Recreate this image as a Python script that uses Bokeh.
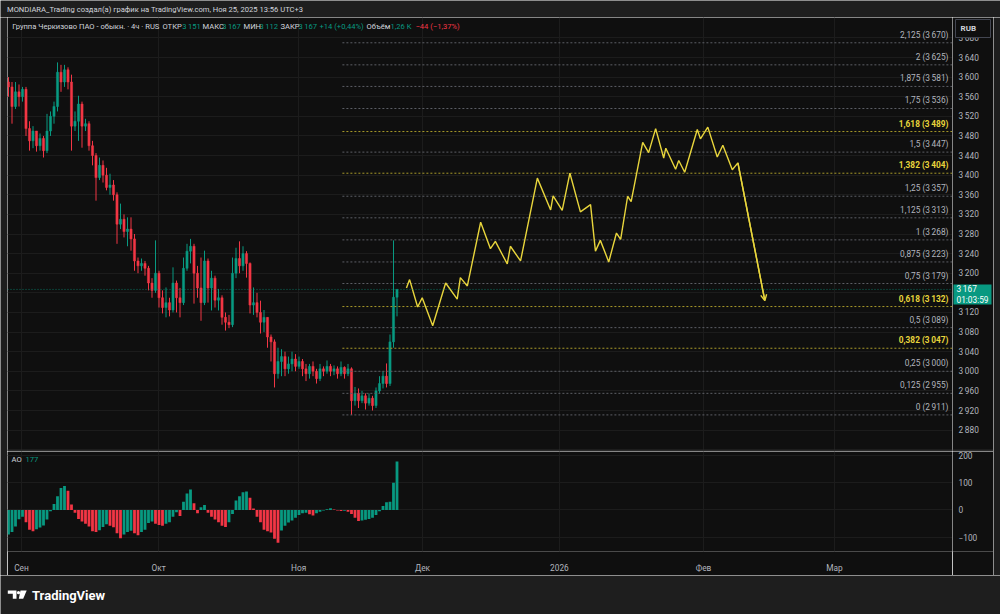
from bokeh.plotting import figure
from bokeh.layouts import column, row
from bokeh.models import (Range1d, FixedTicker, Arrow, OpenHead,
                          ColumnDataSource, Span, CustomJSTickFormatter)
from bokeh.core.properties import value
from bokeh.embed import file_html
from bokeh.resources import INLINE

# ---------------- data ----------------
FIRST_OPEN = 3590
CLOSES = [3580, 3540, 3570, 3560, 3575, 3495, 3470, 3490, 3460, 3475,
          3450, 3490, 3520, 3540, 3610, 3590, 3615, 3590, 3500, 3510,
          3545, 3500, 3505, 3460, 3440, 3395, 3420, 3400, 3375, 3380,
          3360, 3300, 3310, 3285, 3290, 3270, 3225, 3215, 3220, 3210,
          3180, 3165, 3200, 3150, 3130, 3140, 3125, 3180, 3150, 3140,
          3210, 3245, 3255, 3200, 3170, 3140, 3225, 3170, 3190, 3145,
          3150, 3110, 3100, 3095, 3200, 3230, 3215, 3240, 3220, 3135,
          3140, 3120, 3100, 3110, 3070, 3060, 2995, 3020, 3030, 3005,
          3015, 3025, 3010, 3020, 3005, 2995, 3010, 3000, 2985, 3005,
          3000, 3010, 3000, 3005, 2995, 3008, 2995, 3005, 2940, 2955,
          2940, 2950, 2935, 2945, 2930, 2960, 2975, 2990, 2975, 3060,
          3151, 3167]
HIGHS = [3600, 3590, 3590, 3585, 3580, 3580, 3510, 3500, 3490, 3485,
         3480, 3525, 3530, 3550, 3630, 3625, 3625, 3620, 3605, 3530,
         3562, 3550, 3515, 3510, 3470, 3445, 3436, 3430, 3415, 3403,
         3390, 3365, 3342, 3320, 3314, 3314, 3280, 3232, 3230, 3225,
         3215, 3190, 3267, 3205, 3165, 3171, 3150, 3212, 3185, 3170,
         3232, 3260, 3270, 3260, 3215, 3232, 3246, 3230, 3205, 3195,
         3168, 3155, 3120, 3115, 3232, 3252, 3265, 3255, 3245, 3222,
         3171, 3160, 3144, 3125, 3110, 3075, 3065, 3048, 3045, 3040,
         3030, 3040, 3035, 3030, 3025, 3015, 3015, 3020, 3005, 3015,
         3010, 3022, 3015, 3012, 3010, 3020, 3010, 3015, 3008, 2968,
         2965, 2960, 2955, 2955, 2950, 2967, 2990, 3000, 3016, 3075,
         3267, 3167]
LOWS = [3560, 3505, 3535, 3540, 3550, 3480, 3450, 3455, 3448, 3450,
        3436, 3445, 3480, 3505, 3530, 3570, 3580, 3575, 3450, 3490,
        3470, 3456, 3490, 3450, 3420, 3348, 3390, 3385, 3369, 3360,
        3348, 3260, 3290, 3273, 3255, 3246, 3205, 3200, 3205, 3195,
        3165, 3150, 3160, 3130, 3118, 3110, 3112, 3120, 3120, 3110,
        3135, 3205, 3220, 3138, 3150, 3103, 3135, 3140, 3124, 3130,
        3124, 3095, 3083, 3088, 3090, 3190, 3200, 3205, 3191, 3118,
        3115, 3110, 3077, 3080, 3048, 3020, 2967, 2985, 2990, 2990,
        2995, 3000, 3000, 3005, 2990, 2980, 2985, 2990, 2975, 2980,
        2990, 2995, 2990, 2992, 2985, 2990, 2985, 2990, 2911, 2930,
        2925, 2935, 2922, 2930, 2920, 2925, 2955, 2965, 2967, 2970,
        3048, 3112]
AO = [-90, -80, -60, -34, -25, -45, -72, -78, -70, -64,
      -57, -35, -5, 22, 50, 80, 88, 70, 20, -10,
      -33, -42, -50, -60, -78, -80, -74, -62, -52, -58,
      -63, -85, -103, -90, -80, -76, -85, -92, -80, -72,
      -48, -42, -50, -55, -58, -50, -45, -25, -8, -22,
      30, 60, 75, 25, -12, 10, 18, -10, -25, -35,
      -45, -58, -62, -45, -15, 35, 50, 65, 68, 45,
      5, -25, -45, -72, -78, -82, -105, -120, -75, -58,
      -46, -38, -28, -18, -12, -10, -16, -20, -12, -6,
      -2, 3, 6, 2, -2, -4, -3, -6, -15, -28,
      -40, -38, -36, -33, -28, -18, -5, 15, 28, 30,
      100, 177]

FIB_LEVELS = ["0", "0,125", "0,25", "0,382", "0,5", "0,618", "0,75", "0,875", "1",
              "1,125", "1,25", "1,382", "1,5", "1,618", "1,75", "1,875", "2", "2,125"]
FIB_PRICES = [2911, 2955, 3000, 3047, 3089, 3132, 3179, 3223, 3268,
              3313, 3357, 3404, 3447, 3489, 3536, 3581, 3625, 3670]
FIB_HIGHLIGHT = ["0,382", "0,618", "1,382", "1,618"]
FIB_START = 95.4

PATH_X = [113.7, 114.6, 116.9, 118.2, 121.2, 124.9, 128.2, 129.1, 131.1, 134.9,
          137.7, 139.1, 142.5, 143.4, 146.3, 151.1, 154.9, 155.6, 158.2, 160.4,
          163.4, 166.3, 167.7, 169.1, 171.5, 173.7, 174.9, 176.9, 177.9, 181.2,
          182.9, 184.9, 187.2, 187.8, 190.6, 191.5, 193.2, 196.8, 197.7, 199.8,
          202.5, 204.1, 206.8, 208.4, 216.1]
PATH_Y = [3170, 3187, 3131, 3150, 3093, 3180, 3147, 3191, 3174, 3304,
          3250, 3265, 3219, 3255, 3225, 3394, 3329, 3358, 3328, 3404,
          3325, 3340, 3245, 3267, 3223, 3282, 3269, 3357, 3346, 3467,
          3446, 3495, 3435, 3455, 3412, 3430, 3406, 3493, 3474, 3498,
          3437, 3461, 3411, 3425, 3144]

PRICE_TICKS = [2880, 2920, 2960, 3000, 3040, 3080, 3120, 3160, 3200, 3240, 3280,
               3320, 3360, 3400, 3440, 3480, 3520, 3560, 3600, 3640, 3680]
AO_TICKS = [-100, 0, 100, 200]
TIME_TICKS = [3.7, 42.9, 82.9, 118.3, 157.4, 198.6, 236.0]
TIME_LABELS = ["Сен", "Окт", "Ноя", "Дек", "2026", "Фев", "Мар"]

TITLE = "MONDIARA_Trading создал(а) график на TradingView.com, Ноя 25, 2025 13:56 UTC+3"
SYMBOL = "Группа Черкизово ПАО - обыкн. · 4ч · RUS"
CHANGE = "+14 (+0,44%)"
VOLUME = "1,26 K"
VOL_CHANGE = "\u221244 (\u22121,37%)"
COUNTDOWN = "01:03:59"
CURRENCY = "RUB"

# ---------------- style ----------------
FONT = "Roboto"
BG = "#0f0f0f"
OUTER = "#1e1e1e"
SEP = "#2a2a2a"
GRID = "#1c1c1c"
TXT = "#d1d4dc"
AXT = "#b2b5be"
UP = "#089981"
DOWN = "#f23645"
YEL = "#e8d53c"
YEL_LINE = "#a89a2a"
GRAY_LINE = "#5d5f66"
SMALL = "7.6px"
AXFS = "8.3px"


def fmt(v):
    s = f"{abs(v):,}".replace(",", "\u2009")
    return ("\u2212" + s) if v < 0 else s


# pixel -> data helpers (layout of the panes)
def px_x(px):
    return (px - 8) / 3.5


def px_y(py):
    return 2920 + (410 - py) * (720 / 353)


def ao_y(py):
    return (513 - py) / 0.29


X0, X1 = px_x(7), px_x(952)
Y0, Y1 = px_y(451), px_y(17)

n = len(CLOSES)
idx = list(range(n))
opens = [FIRST_OPEN] + CLOSES[:-1]
colors = [UP if c >= o else DOWN for o, c in zip(opens, CLOSES)]
cs = ColumnDataSource(dict(x=idx, o=opens, c=CLOSES, h=HIGHS, l=LOWS,
                           top=[max(o, c) for o, c in zip(opens, CLOSES)],
                           bot=[min(o, c) for o, c in zip(opens, CLOSES)],
                           col=colors))


def base_fig(w, h, xr, yr, bg, **kw):
    kw.setdefault("x_axis_location", None)
    kw.setdefault("y_axis_location", None)
    f = figure(width=w, height=h, x_range=xr, y_range=yr, toolbar_location=None,
               output_backend="svg", min_border=0, background_fill_color=bg,
               border_fill_color=bg, outline_line_color=None, **kw)
    for g in f.grid:
        g.grid_line_color = None
    return f


def txt(f, x, y, t, color, size=SMALL, align="left", baseline="middle", style="normal", **kw):
    f.text(x=x, y=y, text=t, text_color=color, text_font=value(FONT), text_font_size=size,
           text_align=align, text_baseline=baseline, text_font_style=style, **kw)


# ---------------- header ----------------
header = base_fig(1000, 17, Range1d(0, 1000), Range1d(17, 0), OUTER)
txt(header, [6.5], [8.5], [TITLE], TXT)

# ---------------- main pane ----------------
main = base_fig(945, 434, Range1d(X0, X1), Range1d(Y0, Y1), BG)
main.ygrid.ticker = FixedTicker(ticks=PRICE_TICKS)
main.ygrid.grid_line_color = GRID
main.xgrid.ticker = FixedTicker(ticks=TIME_TICKS)
main.xgrid.grid_line_color = GRID

# candles
main.segment(x0="x", y0="l", x1="x", y1="h", color="col", line_width=1, source=cs)
main.vbar(x="x", top="top", bottom="bot", width=0.62, fill_color="col", line_color="col",
          line_width=0.5, source=cs)

# fibonacci levels
hi = [lv in FIB_HIGHLIGHT for lv in FIB_LEVELS]
fs = ColumnDataSource(dict(y=FIB_PRICES, col=[YEL_LINE if h else GRAY_LINE for h in hi]))
main.segment(x0=FIB_START, y0="y", x1=X1, y1="y", line_color="col", line_dash="2 2",
             line_width=1, source=fs)
lab_x = px_x(948)
norm = [(f"{lv} ({fmt(p)})", p) for lv, p, h in zip(FIB_LEVELS, FIB_PRICES, hi) if not h]
bold = [(f"{lv} ({fmt(p)})", p) for lv, p, h in zip(FIB_LEVELS, FIB_PRICES, hi) if h]
txt(main, [lab_x] * len(norm), [p for _, p in norm], [t for t, _ in norm], AXT, size=AXFS,
    align="right", baseline="bottom", y_offset=-3)
txt(main, [lab_x] * len(bold), [p for _, p in bold], [t for t, _ in bold], YEL, size=AXFS,
    align="right", baseline="bottom", style="bold", y_offset=-3)

# current price line
last = CLOSES[-1]
main.add_layout(Span(location=last, dimension="width", line_color=UP, line_alpha=0.7,
                     line_dash="1 2", line_width=1))

# projected path
main.line(PATH_X, PATH_Y, line_color=YEL, line_width=1.4)
main.add_layout(Arrow(end=OpenHead(size=6, line_color=YEL, line_width=1.4),
                      x_start=PATH_X[-2], y_start=PATH_Y[-2],
                      x_end=PATH_X[-1], y_end=PATH_Y[-1],
                      line_color=YEL, line_width=1.4))

# legend line
legend = [(SYMBOL, TXT, 11.7), ("ОТКР", TXT, 162), (fmt(opens[-1]), UP, 181.7),
          ("МАКС", TXT, 202), (fmt(HIGHS[-1]), UP, 221.7),
          ("МИН", TXT, 243), (fmt(LOWS[-1]), UP, 259),
          ("ЗАКР", TXT, 280), (fmt(CLOSES[-1]), UP, 298),
          (CHANGE, UP, 319), ("Объём", TXT, 366), (VOLUME, UP, 390),
          (VOL_CHANGE, DOWN, 415)]
for t, c, px in legend:
    txt(main, [px_x(px)], [px_y(26)], [t], c)

# pane separator
main.quad(left=[X0], right=[X1], top=[px_y(449)], bottom=[Y0], fill_color=SEP, line_color=None)

# ---------------- main price scale (right) ----------------
rmain = base_fig(41, 434, Range1d(952, 993), main.y_range, BG)
txt(rmain, [958] * len(PRICE_TICKS), PRICE_TICKS, [fmt(t) for t in PRICE_TICKS], AXT, size=AXFS)
rmain.quad(left=[953], right=[991], top=[px_y(284)], bottom=[px_y(304)],
           fill_color=UP, line_color=None)
txt(rmain, [956], [last], [fmt(last)], "#ffffff", size=AXFS)
txt(rmain, [956], [px_y(299)], [COUNTDOWN], "#ffffff", size=AXFS)
rmain.quad(left=[955], right=[990], top=[px_y(19)], bottom=[px_y(37)],
           fill_color=BG, line_color="#434651", line_width=1)
txt(rmain, [960], [px_y(28)], [CURRENCY], TXT, size="8px", style="bold")
rmain.quad(left=[952], right=[993], top=[px_y(449)], bottom=[Y0], fill_color=SEP, line_color=None)

# ---------------- AO pane ----------------
ao = base_fig(945, 124, main.x_range, Range1d(ao_y(557), ao_y(451)), BG,
              x_axis_location="below", min_border_bottom=18)
for g in ao.grid:
    g.grid_line_color = None
ao_cols = [UP if (i == 0 or AO[i] >= AO[i - 1]) else DOWN for i in range(n)]
ao.vbar(x=idx, top=AO, bottom=0, width=0.8, fill_color=ao_cols, line_color=None)
ao.ygrid.ticker = FixedTicker(ticks=AO_TICKS)
ao.ygrid.grid_line_color = GRID
xa = ao.xaxis[0]
xa.ticker = FixedTicker(ticks=TIME_TICKS)
xa.formatter = CustomJSTickFormatter(args=dict(t=TIME_TICKS, l=TIME_LABELS), code="""
    const i = t.findIndex(v => Math.abs(v - tick) < 1e-6);
    return i >= 0 ? l[i] : '';
""")
xa.axis_line_color = None
xa.major_tick_line_color = None
xa.minor_tick_line_color = None
xa.major_label_standoff = 5
xa.major_label_text_color = AXT
xa.major_label_text_font = FONT
xa.major_label_text_font_size = AXFS
ao.xgrid.ticker = FixedTicker(ticks=TIME_TICKS)
ao.xgrid.grid_line_color = GRID
txt(ao, [px_x(11)], [ao_y(460)], ["AO"], TXT)
txt(ao, [px_x(25)], [ao_y(460)], [str(AO[-1])], UP)

rao = base_fig(41, 124, Range1d(952, 993), ao.y_range, BG, min_border_bottom=18)
txt(rao, [958] * len(AO_TICKS), AO_TICKS, [fmt(t) for t in AO_TICKS], AXT, size=AXFS)

# ---------------- side pads ----------------
lpad = base_fig(7, 558, Range1d(0, 1), Range1d(0, 1), OUTER)
rpad = base_fig(7, 558, Range1d(0, 1), Range1d(0, 1), OUTER)

# ---------------- footer ----------------
footer = base_fig(1000, 39, Range1d(0, 1000), Range1d(39, 0), OUTER)
oy = 575
footer.patch([7.3, 16, 16, 12.3, 12.3, 7.3],
             [590 - oy, 590 - oy, 598.3 - oy, 598.3 - oy, 593.3 - oy, 593.3 - oy],
             fill_color="#ffffff", line_color=None)
footer.scatter([18], [592.2 - oy], size=3.2, fill_color="#ffffff", line_color=None)
footer.patch([20, 26.2, 22.7, 18.3], [590 - oy, 590 - oy, 598.3 - oy, 598.3 - oy],
             fill_color="#ffffff", line_color=None)
txt(footer, [31.5], [594.5 - oy], ["TradingView"], "#ffffff", size="13px", style="bold")

center = column(row(main, rmain, spacing=0), row(ao, rao, spacing=0), spacing=0)
layout = column(header, row(lpad, center, rpad, spacing=0), footer, spacing=0)

open("out.html", "w").write(file_html(layout, INLINE))
